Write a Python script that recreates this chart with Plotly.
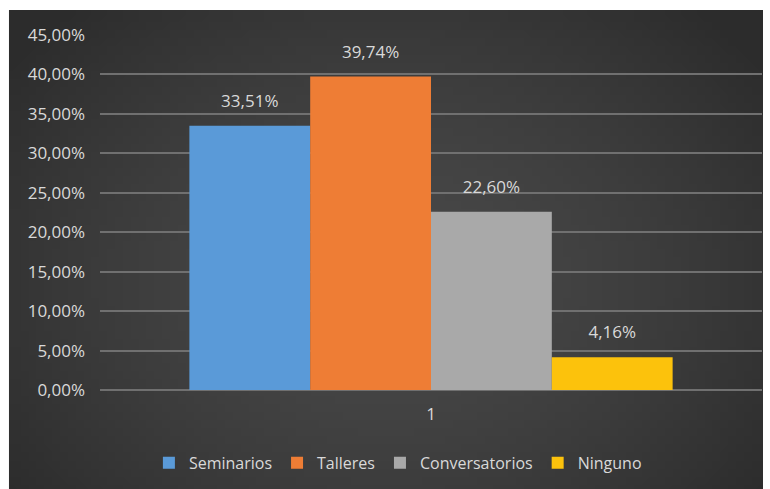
import base64
import struct
import zlib

import plotly.graph_objects as go

# Survey result: preferred activity type (share of respondents)
category = ["1"]
series_names = ["Seminarios", "Talleres", "Conversatorios", "Ninguno"]
series_values = [0.3351, 0.3974, 0.2260, 0.0416]
series_colors = ["#5a9ad8", "#ee7d35", "#a9a9a9", "#fcc20c"]

y_max = 0.45
y_step = 0.05

text_color = "#d9d9d9"
font_family = "Open Sans, Noto Sans, sans-serif"
font_size = 17


def radial_png(w, h, inner=(0x48, 0x48, 0x48), outer=(0x2c, 0x2c, 0x2c)):
    """Small radial-gradient PNG used as the dark chart-area backdrop."""
    rows = b""
    for j in range(h):
        row = b"\x00"
        for i in range(w):
            dx = (i + 0.5) / w - 0.5
            dy = (j + 0.5) / h - 0.55
            t = min(1.0, ((dx / 0.62) ** 2 + (dy / 0.75) ** 2) ** 0.5)
            t = t ** 1.6
            px = bytes(int(round(a + (b - a) * t)) for a, b in zip(inner, outer))
            row += px
        rows += row

    def chunk(tag, data):
        c = struct.pack(">I", len(data)) + tag + data
        return c + struct.pack(">I", zlib.crc32(tag + data) & 0xFFFFFFFF)

    png = b"\x89PNG\r\n\x1a\n"
    png += chunk(b"IHDR", struct.pack(">IIBBBBB", w, h, 8, 2, 0, 0, 0))
    png += chunk(b"IDAT", zlib.compress(rows, 9))
    png += chunk(b"IEND", b"")
    return "data:image/png;base64," + base64.b64encode(png).decode()


fig = go.Figure()
for name, val, col in zip(series_names, series_values, series_colors):
    fig.add_trace(go.Bar(
        name=name,
        x=category,
        y=[val],
        marker=dict(color=col, line=dict(width=0)),
        texttemplate=f"<span style='font-size:{font_size}px'>%{{y:.2%}}</span><br> ",
        textposition="outside",
        cliponaxis=False,
        textfont=dict(color=text_color, size=10, family=font_family),
    ))

# chart-area box in paper coordinates (plot area spans x 100..762, y 35..390 px)
box = dict(x0=-0.1375, x1=1.0015, y0=-0.30, y1=1.0704)

fig.update_layout(
    width=770,
    height=489,
    separators=",.",
    barmode="group",
    bargap=0.27,
    bargroupgap=0,
    paper_bgcolor="white",
    plot_bgcolor="rgba(0,0,0,0)",
    margin=dict(l=100, r=8, t=35, b=99),
    font=dict(family=font_family, size=font_size, color=text_color),
    showlegend=True,
    legend=dict(
        orientation="h",
        x=0.45, xanchor="center",
        y=-0.205, yanchor="middle",
        font=dict(size=16, color=text_color),
        itemwidth=30,
        bgcolor="rgba(0,0,0,0)",
    ),
    images=[dict(
        source=radial_png(96, 60),
        xref="paper", yref="paper",
        x=box["x0"], y=box["y1"],
        sizex=box["x1"] - box["x0"], sizey=box["y1"] - box["y0"],
        xanchor="left", yanchor="top",
        sizing="stretch", layer="below",
    )],
)

fig.update_yaxes(
    range=[0, y_max],
    dtick=y_step,
    tickformat=".2%",
    showgrid=True,
    gridcolor="#707070",
    gridwidth=1.5,
    zeroline=True,
    zerolinecolor="#707070",
    zerolinewidth=1.5,
    showline=False,
    ticks="",
    ticklabelstandoff=14,
    tickfont=dict(size=font_size, color=text_color),
)
fig.update_xaxes(
    showgrid=False,
    showline=False,
    ticks="",
    ticklabelstandoff=12,
    tickfont=dict(size=font_size, color=text_color),
)

fig.write_html("out.html")
